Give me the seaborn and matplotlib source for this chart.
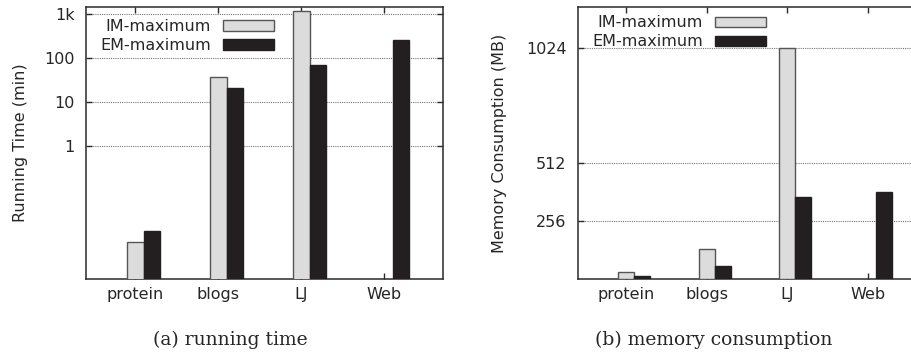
import matplotlib.pyplot as plt
import matplotlib.ticker as mticker
import seaborn as sns
import pandas as pd

datasets = ['protein', 'blogs', 'LJ', 'Web']
methods = ['IM-maximum', 'EM-maximum']
time_im = [0.007, 38, 1150, None]   # IM-maximum did not finish on Web
time_em = [0.012, 21, 71, 250]
mem_im = [30, 132, 1024, None]
mem_em = [12, 59, 363, 383]

time_ticks = [1, 10, 100, 1000]
time_labels = ['1', '10', '100', '1k']
mem_ticks = [256, 512, 1024]

colors = {'IM-maximum': '#dcdcdd', 'EM-maximum': '#231f20'}
edges = {'IM-maximum': '#555555', 'EM-maximum': '#231f20'}


def to_long(im, em):
    rows = []
    for d, a, b in zip(datasets, im, em):
        if a is not None:
            rows.append((d, 'IM-maximum', a))
        if b is not None:
            rows.append((d, 'EM-maximum', b))
    return pd.DataFrame(rows, columns=['dataset', 'method', 'value'])


sns.set_style('ticks')
plt.rcParams['font.family'] = ['DejaVu Sans']
plt.rcParams['font.size'] = 11.5
plt.rcParams['axes.linewidth'] = 1.1
plt.rcParams['axes.edgecolor'] = '#2a2a2a'

fig = plt.figure(figsize=(9.12, 3.54), dpi=100)
ax1 = fig.add_axes([86 / 912, 1 - 279 / 354, 357 / 912, 272 / 354])
ax2 = fig.add_axes([577.7 / 912, 1 - 279 / 354, 346.2 / 912, 271.7 / 354])


def draw(ax, df, ylab, leg_anchor):
    sns.barplot(data=df, x='dataset', y='value', hue='method', order=datasets,
                hue_order=methods, palette=colors, width=0.4, ax=ax,
                saturation=1, legend=True, zorder=3)
    for cont, m in zip(ax.containers, methods):
        for p in cont:
            p.set_edgecolor(edges[m])
            p.set_linewidth(1.0)
    handles, labels = ax.get_legend_handles_labels()
    for h, m in zip(handles, methods):
        h.set_edgecolor(edges[m])
        h.set_linewidth(1.0)
    ax.legend(handles, labels, loc='upper right', bbox_to_anchor=leg_anchor,
              bbox_transform=fig.transFigure, frameon=False, markerfirst=False,
              handlelength=3.2, handleheight=0.63, handletextpad=0.75,
              labelspacing=0.25, borderpad=0, borderaxespad=0, fontsize=11.5)
    ax.set_xticks([i - 0.1 for i in range(len(datasets))])
    ax.set_xticklabels(datasets)
    ax.set_xlabel('')
    ax.set_ylabel(ylab, fontsize=11.5)
    ax.grid(axis='y', linestyle=(0, (1, 1)), color='#777777', linewidth=0.8, zorder=0)
    ax.set_axisbelow(True)
    ax.tick_params(direction='in', length=4, width=1, top=True, right=True,
                   color='#2a2a2a')
    ax.tick_params(axis='y', pad=8)
    ax.tick_params(axis='x', pad=6)
    ax.minorticks_off()
    for s in ax.spines.values():
        s.set_visible(True)


draw(ax1, to_long(time_im, time_em), 'Running Time (min)', (274 / 912, 1 - 19.2 / 354))
ax1.set_yscale('log')
ax1.set_ylim(0.001, 1420)
ax1.yaxis.set_major_locator(mticker.FixedLocator(time_ticks))
ax1.yaxis.set_minor_locator(mticker.NullLocator())
ax1.set_yticklabels(time_labels)
ax1.set_xlim(-0.694, 3.607)
ax1.yaxis.set_label_coords(-0.162, 0.5)

draw(ax2, to_long(mem_im, mem_em), 'Memory Consumption (MB)', (766 / 912, 1 - 15.4 / 354))
ax2.set_ylim(0, 1203)
ax2.set_yticks(mem_ticks)
ax2.set_xlim(-0.704, 3.6)
ax2.yaxis.set_label_coords(-0.204, 0.5)
# the right panel runs past the figure edge, so its right side is not shown
ax2.spines['right'].set_visible(False)
ax2.tick_params(right=False)

fig.text(230 / 912, 1 - 340 / 354, '(a) running time', ha='center', va='center',
         family='DejaVu Serif', fontsize=13.5)
fig.text(713.6 / 912, 1 - 340 / 354, '(b) memory consumption', ha='center', va='center',
         family='DejaVu Serif', fontsize=13.5)

fig.savefig('out.png', dpi=100)
